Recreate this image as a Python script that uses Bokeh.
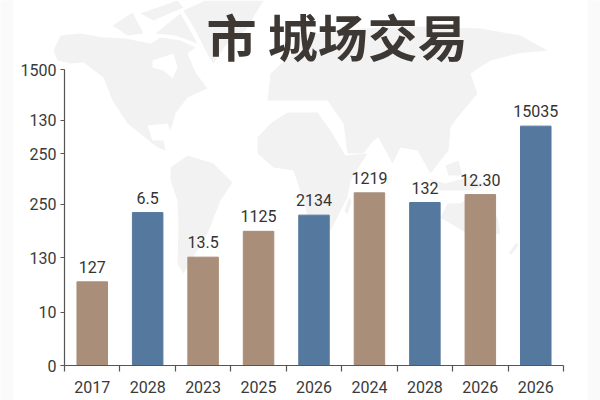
from bokeh.plotting import figure
from bokeh.models import FixedTicker, Range1d
from bokeh.core.properties import value
from bokeh.embed import file_html
from bokeh.resources import INLINE

# Chart content
title_text = "市 城场交易"
years = ["2017", "2028", "2023", "2025", "2026", "2024", "2028", "2026", "2026"]
bar_values = [424, 775, 549, 680, 762, 875, 826, 866, 1213]
bar_labels = ["127", "6.5", "13.5", "1125", "2134", "1219", "132", "12.30", "15035"]
BROWN, BLUE = "#a98e79", "#55799e"
bar_colors = [BROWN, BLUE, BROWN, BROWN, BLUE, BROWN, BLUE, BROWN, BLUE]
y_tick_values = [0, 269, 547, 816, 1074, 1242, 1500]
y_tick_labels = ["0", "10", "130", "250", "250", "130", "1500"]

# Faint world-map backdrop (outlines in page pixels)
north_america = [(53,50),(60,35),(80,33),(103,37),(125,38),(150,43),(160,37),(180,40),(195,47),(187,53),(195,72),(207,88),(187,97),(175,113),(170,130),(167,123),(147,125),(152,140),(163,140),(165,150),(157,147),(127,123),(112,100),(103,77),(83,62),(70,63),(57,60)]
baffin = [(155,33),(180,13),(197,43),(175,35)]
ellesmere = [(140,13),(177,0),(183,7),(153,20)]
victoria = [(112,25),(132,12),(143,33),(127,35)]
greenland = [(183,10),(205,0),(263,0),(245,30),(225,45),(213,63),(205,50),(195,30)]
south_america = [(170,167),(187,155),(213,163),(232,182),(220,200),(207,233),(183,273),(177,263),(178,225),(177,200),(170,180)]
eurasia = [(267,100),(270,73),(290,55),(300,35),(360,28),(420,26),(480,28),(520,35),(547,50),(517,53),(490,60),(470,73),(477,93),(457,117),(450,127),(448,150),(430,173),(417,150),(400,147),(392,163),(378,137),(373,140),(363,153),(347,153),(343,123),(327,100),(300,100)]
africa = [(257,137),(270,123),(287,112),(317,112),(330,130),(345,155),(367,153),(350,180),(347,197),(330,230),(312,238),(305,207),(293,170),(273,167),(257,153)]
madagascar = [(344,210),(349,197),(351,201),(347,214)]
borneo = [(445,165),(458,160),(462,175),(448,175)]
indonesia = [(428,178),(445,183),(470,176),(485,185),(470,190),(440,190)]
australia = [(440,217),(447,203),(460,203),(473,193),(497,217),(500,233),(473,237)]
new_zealand = [(508,253),(516,242),(518,245),(511,254)]
map_shapes = [north_america, baffin, ellesmere, victoria, greenland, south_america, eurasia, africa,
              madagascar, borneo, indonesia, australia, new_zealand]
hudson_bay = [(152,60),(173,53),(177,67),(172,78),(163,70),(152,67)]

W, H = 600, 400

# Back layer: page-pixel canvas holding the card, the map and the title
bg = figure(width=W, height=H, output_backend="svg", toolbar_location=None,
            x_range=Range1d(0, W), y_range=Range1d(H, 0), min_border=0)
bg.axis.visible = False
bg.grid.visible = False
bg.outline_line_color = None
bg.background_fill_color = "#fafafa"
bg.border_fill_color = "#fafafa"
bg.quad(left=[13], right=[587], top=[-5], bottom=[405], fill_color="white", line_color=None)
bg.patches(xs=[[a for a, _ in s] for s in map_shapes], ys=[[b for _, b in s] for s in map_shapes],
           fill_color="#f2f2f2", line_color=None)
bg.patch(x=[a for a, _ in hudson_bay], y=[b for _, b in hudson_bay], fill_color="white", line_color=None)
bg.text(x=[206], y=[34], text=[title_text], text_align="left", text_baseline="middle",
        text_font=value("Noto Sans CJK SC"), text_font_style="bold", text_font_size="50px",
        text_line_height=1.0, text_color="#3d3833")

# Front layer: the chart itself, transparent, laid over the back layer
p = figure(width=W, height=H, output_backend="svg", toolbar_location=None,
           x_range=Range1d(0, 9), y_range=Range1d(0, 1500),
           min_border_left=64, min_border_right=37, min_border_top=69, min_border_bottom=35,
           margin=(-H, 0, 0, 0))
p.border_fill_color = None
p.background_fill_color = None
p.outline_line_color = None
p.grid.visible = False

x_centres = [i + 0.5 for i in range(len(years))]
p.vbar(x=x_centres, top=bar_values, width=0.55, bottom=0, color=bar_colors)
p.text(x=x_centres, y=bar_values, text=bar_labels, text_align="center", text_baseline="bottom",
       y_offset=-9, text_font=value("Roboto"), text_font_size="16px", text_color="#333333")

TEXT, AXIS = "#3a3a3a", "#555555"
xaxis = p.xaxis[0]
xaxis.ticker = FixedTicker(ticks=x_centres, minor_ticks=list(range(len(years) + 1)))
xaxis.major_label_overrides = dict(zip(x_centres, years))
xaxis.major_tick_in = xaxis.major_tick_out = 0
xaxis.minor_tick_in = 0
xaxis.minor_tick_out = 6
xaxis.minor_tick_line_color = AXIS
xaxis.minor_tick_line_width = 1.2
xaxis.major_label_standoff = 9

yaxis = p.yaxis[0]
yaxis.ticker = FixedTicker(ticks=y_tick_values)
yaxis.major_label_overrides = dict(zip(y_tick_values, y_tick_labels))
yaxis.major_tick_in = 0
yaxis.major_tick_out = 4
yaxis.minor_tick_line_color = None
yaxis.major_tick_line_color = AXIS
yaxis.major_tick_line_width = 1.2
yaxis.major_label_standoff = 4

for axis in (xaxis, yaxis):
    axis.axis_line_color = AXIS
    axis.axis_line_width = 1.2
    axis.major_label_text_font = "Roboto"
    axis.major_label_text_font_size = "16px"
    axis.major_label_text_color = TEXT

open("out.html", "w").write(file_html((bg, p), INLINE))
